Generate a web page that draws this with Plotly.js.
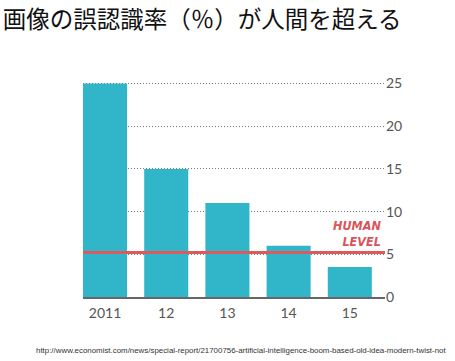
<!DOCTYPE html>
<html>
<head>
<meta charset="utf-8">
<script src="https://cdn.plot.ly/plotly-3.0.1.min.js"></script>
<style>html,body{margin:0;padding:0;background:#fff;}#chart{width:455px;height:361px;}</style>
</head>
<body>
<div id="chart"></div>
<script>
const years = ['2011', '12', '13', '14', '15'];
const errorRates = [25, 15, 11, 6, 3.5];
const humanLevel = 5.2;
const yTicks = [0, 5, 10, 15, 20, 25];
const titleText = '画像の誤認識率（％）が人間を超える';
const sourceText = 'http://www.economist.com/news/special-report/21700756-artificial-intelligence-boom-based-old-idea-modern-twist-not';

const trace = {
  type: 'bar',
  x: years,
  y: errorRates,
  marker: {color: '#31b5c9'},
  hoverinfo: 'skip'
};

const layout = {
  width: 455, height: 361,
  margin: {l: 83, r: 70, t: 82, b: 64, pad: 0},
  paper_bgcolor: '#fff', plot_bgcolor: '#fff',
  showlegend: false,
  bargap: 0.28,
  title: {
    text: titleText,
    font: {family: '"Noto Sans CJK JP", sans-serif', size: 23.5, color: '#111'},
    xref: 'container', yref: 'container',
    x: 0.006, xanchor: 'left', y: 0.968, yanchor: 'top'
  },
  xaxis: {
    type: 'category',
    range: [-0.36, 4.575],
    showline: true, linecolor: '#666', linewidth: 1.5,
    showgrid: false, zeroline: false,
    ticks: '', ticklabelstandoff: 3,
    tickfont: {family: 'Lato, "Open Sans", sans-serif', size: 14, color: '#555'}
  },
  yaxis: {
    side: 'right',
    range: [0, 25.18],
    tickvals: yTicks,
    ticktext: yTicks.map(String),
    showgrid: true, gridcolor: '#777', griddash: '1px,2px', gridwidth: 1,
    zeroline: false, showline: false, ticks: '',
    tickfont: {family: 'Lato, "Open Sans", sans-serif', size: 14, color: '#555'}
  },
  shapes: [{
    type: 'line', xref: 'paper', x0: 0, x1: 1, yref: 'y', y0: humanLevel, y1: humanLevel,
    line: {color: '#dc5a5e', width: 3}
  }],
  annotations: [
    {
      xref: 'paper', yref: 'y', x: 0.995, y: humanLevel + 0.15, xanchor: 'right', yanchor: 'bottom',
      text: '<b><i>HUMAN<br>LEVEL</i></b>', align: 'right', showarrow: false,
      font: {family: '"Liberation Sans Narrow", "DejaVu Sans Condensed", sans-serif', size: 12.5, color: '#d9545a'}
    },
    {
      xref: 'paper', yref: 'paper', x: 1.207, y: -0.25, xanchor: 'right', yanchor: 'middle',
      text: sourceText, showarrow: false,
      font: {family: '"Liberation Sans", Arial, sans-serif', size: 7.9, color: '#333'}
    }
  ]
};

Plotly.newPlot('chart', [trace], layout, {displayModeBar: false, staticPlot: true});
</script>
</body>
</html>
